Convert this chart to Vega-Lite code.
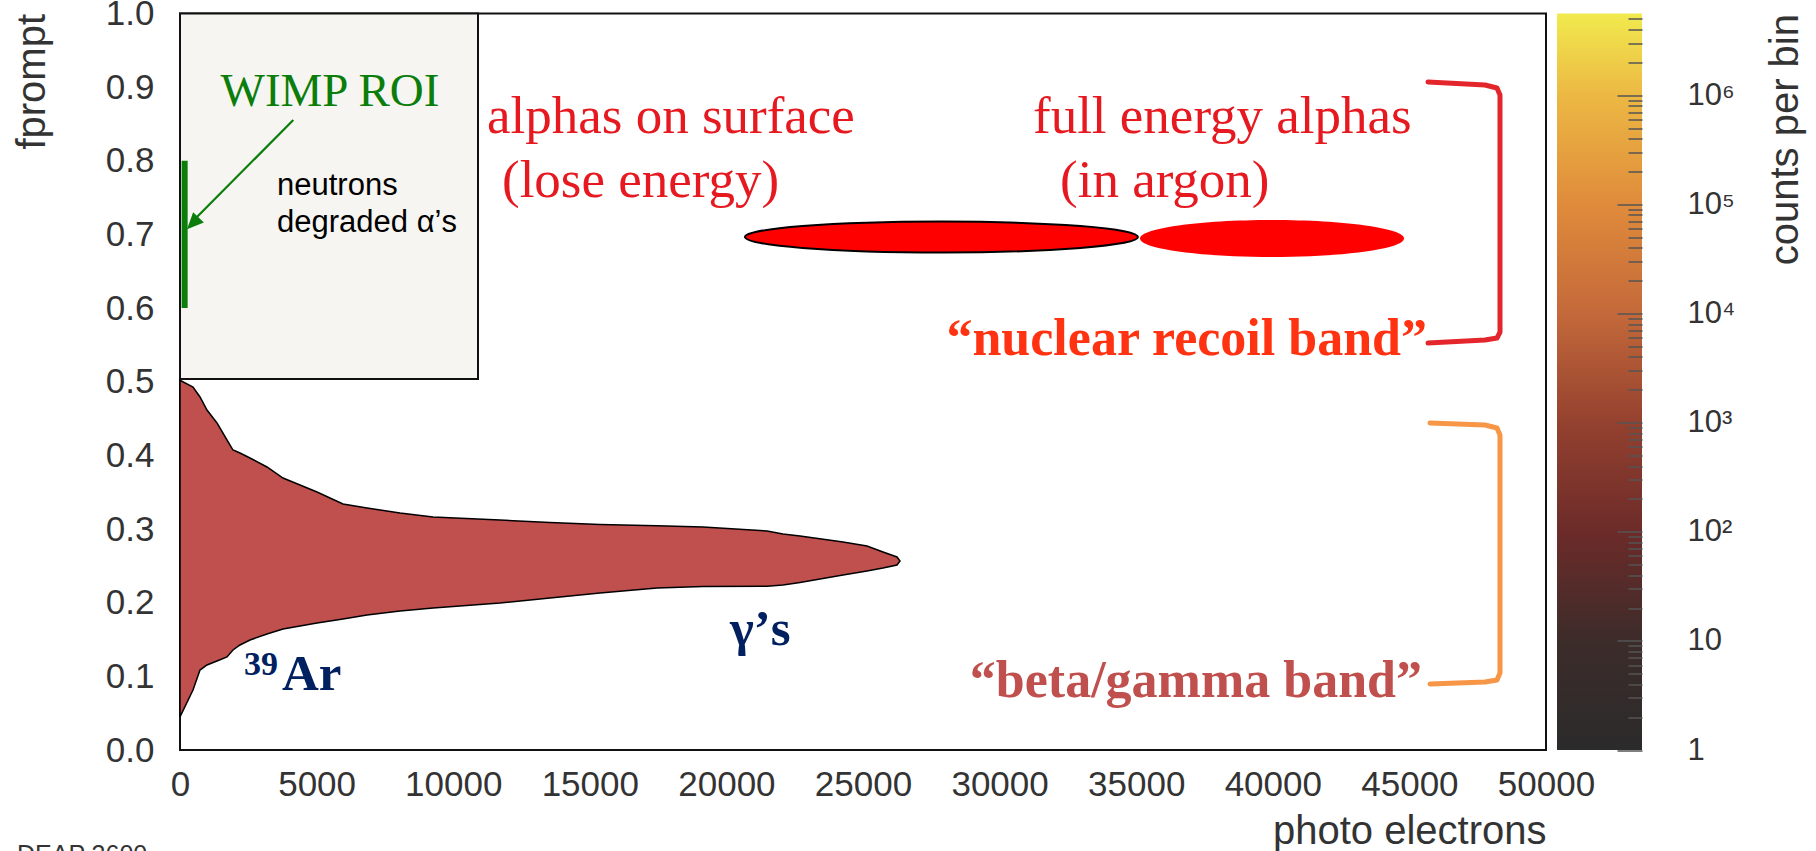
{
  "$schema": "https://vega.github.io/schema/vega-lite/v6.json",
  "width": 1366,
  "height": 736.5,
  "autosize": {"type": "none"},
  "padding": {"left": 180, "top": 13.5, "right": 270, "bottom": 101},
  "background": "white",
  "config": {"view": {"stroke": "#111", "strokeWidth": 2}, "font": "Liberation Sans"},
  "datasets": {
    "box": [{"x": 0, "x2": 10908, "y": 0.5037, "y2": 1}],
    "band": [
      {"x": 0, "y": 0.045, "y2": 0.502},
      {"x": 476, "y": 0.0815, "y2": 0.4929},
      {"x": 732, "y": 0.1086, "y2": 0.4793},
      {"x": 988, "y": 0.1154, "y2": 0.4616},
      {"x": 1354, "y": 0.1208, "y2": 0.444},
      {"x": 1720, "y": 0.1263, "y2": 0.4209},
      {"x": 1940, "y": 0.1358, "y2": 0.4073},
      {"x": 2196, "y": 0.1426, "y2": 0.4033},
      {"x": 2562, "y": 0.1494, "y2": 0.3965},
      {"x": 3184, "y": 0.1575, "y2": 0.3843},
      {"x": 3770, "y": 0.1643, "y2": 0.3693},
      {"x": 4393, "y": 0.1684, "y2": 0.3598},
      {"x": 5015, "y": 0.1724, "y2": 0.3503},
      {"x": 5966, "y": 0.1779, "y2": 0.334},
      {"x": 6845, "y": 0.1833, "y2": 0.3286},
      {"x": 8053, "y": 0.1887, "y2": 0.3218},
      {"x": 9261, "y": 0.1928, "y2": 0.3164},
      {"x": 11713, "y": 0.1996, "y2": 0.3123},
      {"x": 13543, "y": 0.2064, "y2": 0.309},
      {"x": 15373, "y": 0.2132, "y2": 0.3062},
      {"x": 17460, "y": 0.22, "y2": 0.3045},
      {"x": 19143, "y": 0.222, "y2": 0.3028},
      {"x": 21486, "y": 0.2225, "y2": 0.2974},
      {"x": 22071, "y": 0.2239, "y2": 0.2933},
      {"x": 22694, "y": 0.2274, "y2": 0.2906},
      {"x": 24268, "y": 0.2375, "y2": 0.2824},
      {"x": 25146, "y": 0.243, "y2": 0.277},
      {"x": 25732, "y": 0.2471, "y2": 0.2688},
      {"x": 26244, "y": 0.2512, "y2": 0.2621},
      {"x": 26354, "y": 0.2566, "y2": 0.2566}
    ],
    "roi": [{"x": 60, "x2": 280, "y": 0.6, "y2": 0.8}],
    "arrow": [{"x": 4147, "y": 0.8554, "x2": 439, "y2": 0.7169}],
    "arrowhead": [{"x": 256, "y": 0.707}],
    "ellipses": [
      {"name": "surface", "x": 27873, "y": 0.6965},
      {"name": "full", "x": 39971, "y": 0.6945}
    ],
    "brackets": [
      {"br": "nr", "i": 0, "x": 45681, "y": 0.907},
      {"br": "nr", "i": 1, "x": 47767, "y": 0.9029},
      {"br": "nr", "i": 2, "x": 48206, "y": 0.8989},
      {"br": "nr", "i": 3, "x": 48316, "y": 0.8893},
      {"br": "nr", "i": 4, "x": 48316, "y": 0.5675},
      {"br": "nr", "i": 5, "x": 48206, "y": 0.5594},
      {"br": "nr", "i": 6, "x": 47767, "y": 0.5567},
      {"br": "nr", "i": 7, "x": 45681, "y": 0.5526},
      {"br": "bg", "i": 0, "x": 45754, "y": 0.444},
      {"br": "bg", "i": 1, "x": 47767, "y": 0.4413},
      {"br": "bg", "i": 2, "x": 48206, "y": 0.4372},
      {"br": "bg", "i": 3, "x": 48316, "y": 0.4277},
      {"br": "bg", "i": 4, "x": 48316, "y": 0.1045},
      {"br": "bg", "i": 5, "x": 48206, "y": 0.095},
      {"br": "bg", "i": 6, "x": 47767, "y": 0.0923},
      {"br": "bg", "i": 7, "x": 45754, "y": 0.0896}
    ],
    "wimp": [{"x": 5490, "y": 0.8744, "t": "WIMP ROI"}],
    "neutrons": [
      {"x": 3551, "y": 0.7536, "t": "neutrons"},
      {"x": 3551, "y": 0.7037, "t": "degraded α’s"}
    ],
    "redtext": [
      {"x": 11237, "y": 0.8378, "t": "alphas on surface"},
      {"x": 11786, "y": 0.7508, "t": "(lose energy)"},
      {"x": 31222, "y": 0.8378, "t": "full energy alphas"},
      {"x": 32211, "y": 0.7508, "t": "(in argon)"}
    ],
    "nrtext": [{"x": 45644, "y": 0.5363, "t": "“nuclear recoil band”"}],
    "bgtext": [{"x": 45461, "y": 0.072, "t": "“beta/gamma band”"}],
    "navy": [
      {"x": 3734, "y": 0.0815, "t": "Ar"},
      {"x": 20132, "y": 0.1426, "t": "γ’s"}
    ],
    "sup": [{"x": 2343, "y": 0.1018, "t": "39"}],
    "deap": [{"x": -5966, "y": -0.1534, "t": "DEAP 3600"}],
    "colorbar": [{"x": 50403, "x2": 53514, "y": 1, "y2": 5600000}]
  },
  "encoding": {
    "x": {
      "field": "x", "type": "quantitative",
      "scale": {"domain": [0, 50000], "nice": false, "zero": false},
      "axis": {
        "values": [0, 5000, 10000, 15000, 20000, 25000, 30000, 35000, 40000, 45000, 50000],
        "format": "d", "labelFontSize": 35, "labelColor": "#333", "labelPadding": 17,
        "labelFlush": false, "labelOverlap": false, "ticks": false, "domain": false, "grid": false,
        "title": "photo electrons", "titleFontSize": 40, "titleFontWeight": "normal", "titleColor": "#333",
        "titleX": 1366, "titleY": 93, "titleAlign": "right", "titleBaseline": "alphabetic"
      }
    },
    "y": {
      "field": "y", "type": "quantitative",
      "scale": {"domain": [0, 1], "nice": false, "zero": false},
      "axis": {
        "values": [0, 0.1, 0.2, 0.3, 0.4, 0.5, 0.6, 0.7, 0.8, 0.9, 1.0],
        "format": ".1f", "labelFontSize": 35, "labelColor": "#333", "labelPadding": 26,
        "labelOverlap": false, "ticks": false, "domain": false, "grid": false,
        "title": "fprompt", "titleFontSize": 40, "titleFontWeight": "normal", "titleColor": "#333",
        "titleAngle": -90, "titleX": -128, "titleY": 0, "titleAlign": "right", "titleBaseline": "bottom"
      }
    }
  },
  "layer": [
    {
      "layer": [
        {
          "data": {"name": "box"},
          "mark": {"type": "rect", "fill": "#f6f5f1", "stroke": "#111", "strokeWidth": 2},
          "encoding": {"x2": {"field": "x2"}, "y2": {"field": "y2"}}
        },
        {
          "data": {"name": "band"},
          "mark": {"type": "area", "fill": "#c0504d", "stroke": "#000", "strokeWidth": 1.5, "opacity": 1},
          "encoding": {"y2": {"field": "y2"}}
        },
        {
          "data": {"name": "roi"},
          "mark": {"type": "rect", "fill": "#0b7d0b"},
          "encoding": {"x2": {"field": "x2"}, "y2": {"field": "y2"}}
        },
        {
          "data": {"name": "arrow"},
          "mark": {"type": "rule", "color": "#0b7d0b", "strokeWidth": 2.2},
          "encoding": {"x2": {"field": "x2"}, "y2": {"field": "y2"}}
        },
        {
          "data": {"name": "arrowhead"},
          "mark": {"type": "point", "shape": "M0,0L-0.45,1L0.45,1Z", "size": 1100, "angle": 224, "filled": true, "fill": "#0b7d0b", "opacity": 1, "strokeWidth": 0}
        },
        {
          "data": {"name": "ellipses"},
          "transform": [{"filter": "datum.name == 'surface'"}],
          "mark": {"type": "point", "shape": "M-1,0C-1,-0.0436,-0.5523,-0.0789,0,-0.0789C0.5523,-0.0789,1,-0.0436,1,0C1,0.0436,0.5523,0.0789,0,0.0789C-0.5523,0.0789,-1,0.0436,-1,0Z", "size": 154449, "filled": true, "fill": "#ff0000", "stroke": "#000", "strokeWidth": 2, "opacity": 1}
        },
        {
          "data": {"name": "ellipses"},
          "transform": [{"filter": "datum.name == 'full'"}],
          "mark": {"type": "point", "shape": "M-1,0C-1,-0.0773,-0.5523,-0.14,0,-0.14C0.5523,-0.14,1,-0.0773,1,0C1,0.0773,0.5523,0.14,0,0.14C-0.5523,0.14,-1,0.0773,-1,0Z", "size": 69696, "filled": true, "fill": "#ff0000", "strokeWidth": 0, "opacity": 1}
        },
        {
          "data": {"name": "brackets"},
          "mark": {"type": "line", "strokeWidth": 5, "strokeCap": "round", "strokeJoin": "round"},
          "encoding": {
            "color": {"field": "br", "type": "nominal", "scale": {"domain": ["nr", "bg"], "range": ["#e3262b", "#f79646"]}, "legend": null},
            "order": {"field": "i", "type": "quantitative"}
          }
        },
        {
          "data": {"name": "wimp"},
          "mark": {"type": "text", "font": "Liberation Serif", "fontSize": 47, "color": "#0b7d0b", "align": "center", "baseline": "alphabetic"},
          "encoding": {"text": {"field": "t"}}
        },
        {
          "data": {"name": "neutrons"},
          "mark": {"type": "text", "font": "Liberation Sans", "fontSize": 31, "color": "#000", "align": "left", "baseline": "alphabetic"},
          "encoding": {"text": {"field": "t"}}
        },
        {
          "data": {"name": "redtext"},
          "mark": {"type": "text", "font": "Liberation Serif", "fontSize": 53, "color": "#e5191f", "align": "left", "baseline": "alphabetic"},
          "encoding": {"text": {"field": "t"}}
        },
        {
          "data": {"name": "nrtext"},
          "mark": {"type": "text", "font": "Liberation Serif", "fontWeight": "bold", "fontSize": 52, "color": "#ff3311", "align": "right", "baseline": "alphabetic"},
          "encoding": {"text": {"field": "t"}}
        },
        {
          "data": {"name": "bgtext"},
          "mark": {"type": "text", "font": "Liberation Serif", "fontWeight": "bold", "fontSize": 52, "color": "#c0504d", "align": "right", "baseline": "alphabetic"},
          "encoding": {"text": {"field": "t"}}
        },
        {
          "data": {"name": "navy"},
          "mark": {"type": "text", "font": "Liberation Serif", "fontWeight": "bold", "fontSize": 51, "color": "#002060", "align": "left", "baseline": "alphabetic"},
          "encoding": {"text": {"field": "t"}}
        },
        {
          "data": {"name": "sup"},
          "mark": {"type": "text", "font": "Liberation Serif", "fontWeight": "bold", "fontSize": 34, "color": "#002060", "align": "left", "baseline": "alphabetic"},
          "encoding": {"text": {"field": "t"}}
        },
        {
          "data": {"name": "deap"},
          "mark": {"type": "text", "font": "Liberation Sans", "fontSize": 25, "color": "#333", "align": "left", "baseline": "alphabetic"},
          "encoding": {"text": {"field": "t"}}
        }
      ]
    },
    {
      "data": {"name": "colorbar"},
      "mark": {
        "type": "rect",
        "fill": {
          "gradient": "linear", "x1": 0, "y1": 1, "x2": 0, "y2": 0,
          "stops": [
            {"offset": 0, "color": "#2b2b2b"},
            {"offset": 0.148, "color": "#3c2c2a"},
            {"offset": 0.296, "color": "#6c2b29"},
            {"offset": 0.445, "color": "#94412f"},
            {"offset": 0.593, "color": "#c4693a"},
            {"offset": 0.741, "color": "#e08b3b"},
            {"offset": 0.889, "color": "#ecb843"},
            {"offset": 1, "color": "#f1ea4e"}
          ]
        }
      },
      "encoding": {
        "x2": {"field": "x2"},
        "y": {
          "field": "y", "type": "quantitative",
          "scale": {"type": "log", "domain": [1, 5600000], "nice": false},
          "axis": {
            "orient": "right", "offset": 96, "zindex": 2,
            "values": [1, 2, 3, 4, 5, 6, 7, 8, 9, 10, 20, 30, 40, 50, 60, 70, 80, 90, 100, 200, 300, 400, 500, 600, 700, 800, 900, 1000, 2000, 3000, 4000, 5000, 6000, 7000, 8000, 9000, 10000, 20000, 30000, 40000, 50000, 60000, 70000, 80000, 90000, 100000, 200000, 300000, 400000, 500000, 600000, 700000, 800000, 900000, 1000000, 2000000, 3000000, 4000000, 5000000],
            "labelExpr": "datum.value == 1 ? '1' : datum.value == 10 ? '10' : datum.value == 100 ? '10²' : datum.value == 1000 ? '10³' : datum.value == 10000 ? '10⁴' : datum.value == 100000 ? '10⁵' : datum.value == 1000000 ? '10⁶' : ''",
            "labelFontSize": 31, "labelColor": "#333", "labelPadding": 70, "labelOverlap": false, "labelFlush": false,
            "domain": false, "grid": false, "ticks": true, "tickColor": "#555", "tickWidth": 1.5,
            "tickSize": {"condition": {"test": "datum.value == 1 || datum.value == 10 || datum.value == 100 || datum.value == 1000 || datum.value == 10000 || datum.value == 100000 || datum.value == 1000000", "value": -25}, "value": -14},
            "title": "counts per bin", "titleFontSize": 40, "titleFontWeight": "normal", "titleColor": "#333",
            "titleAngle": -90, "titleX": 163, "titleY": 0, "titleAlign": "right", "titleBaseline": "bottom"
          }
        },
        "y2": {"field": "y2"}
      }
    }
  ],
  "resolve": {"scale": {"y": "independent"}, "axis": {"y": "independent"}}
}
